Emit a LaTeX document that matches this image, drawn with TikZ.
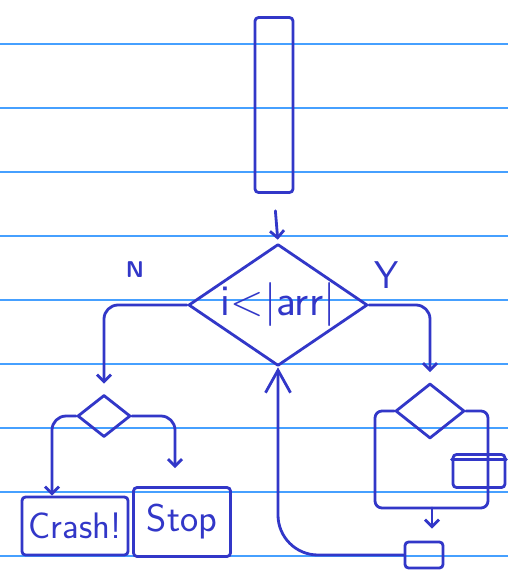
\documentclass[tikz,border=0pt]{standalone}
\usetikzlibrary{arrows.meta,shapes.geometric,calc}
\definecolor{ink}{RGB}{50,55,200}
\definecolor{rule}{RGB}{70,160,255}
\tikzstyle{pen}=[draw=ink,line width=1.6pt,line cap=round,line join=round]
\tikzstyle{box}=[pen,rectangle,rounded corners=2pt,inner sep=0pt]
\tikzstyle{dec}=[pen,diamond,inner sep=0pt]
\tikzstyle{wire}=[pen,rounded corners=8pt,-{Straight Barb[length=4pt,width=8pt]}]
\tikzstyle{lbl}=[text=ink,font=\sffamily]
\newcommand{\handsize}[1]{\fontsize{#1}{#1}\selectfont}

\begin{document}
\begin{tikzpicture}[x=0.02cm,y=-0.02cm]
\fill[white] (0,0) rectangle (508,572);
\useasboundingbox (0,0) rectangle (508,572);
\foreach \k in {0,...,8}
  \draw[rule,line width=1pt] (0,44+64*\k) -- (508,44+64*\k);

\node[box,minimum width=0.76cm,minimum height=3.5cm] (list) at (274,105) {};
\node[dec,lbl,shape aspect=1.47,minimum width=3.52cm,minimum height=2.4cm,
      font=\sffamily\handsize{25}] (cond) at (278,305) {i<|arr|};
\node[dec,minimum width=1.06cm,minimum height=0.84cm] (sdl) at (104,416) {};
\node[dec,minimum width=1.38cm,minimum height=1.1cm] (sdr) at (430,411) {};
\node[box,lbl,minimum width=2.12cm,minimum height=1.16cm,
      font=\sffamily\handsize{21}] (crash) at (75,526) {Crash!};
\node[box,lbl,minimum width=1.94cm,minimum height=1.38cm,
      font=\sffamily\handsize{22}] (stop) at (182,522) {Stop};
\node[box,minimum width=1.04cm,minimum height=0.66cm] (buf) at (479,471) {};
\draw[pen] ($(buf.north west)+(0,6)$) -- ($(buf.north east)+(0,6)$);
\node[box,minimum width=0.76cm,minimum height=0.52cm] (done) at (424,555) {};

\node[lbl,font=\sffamily\bfseries\handsize{13}] (no) at (135,270) {N};
\node[lbl,font=\sffamily\handsize{22}] (yes) at (387,275) {Y};

\draw[wire,shorten <=0.34cm,shorten >=0.06cm] (list.south) -- (cond.north);
\draw[wire,shorten >=0.2cm] (cond.west) -| (sdl.north);
\draw[wire] (sdl.west) -| ($(crash.north)+(-23,0)$);
\draw[wire,shorten >=0.36cm] (sdl.east) -| ($(stop.north)+(-7,0)$);
\draw[wire,shorten >=0.2cm] (cond.east) -| (sdr.north);

\coordinate (lp) at (375,508);
\coordinate (rp) at (488,508);
\coordinate (join) at (432,508);
\draw[pen,rounded corners=4pt] (sdr.west) -| (lp) -- (rp) |- (sdr.east);
\draw[wire,shorten >=0.24cm] (join) -- (join |- done.north);
\draw[wire,rounded corners=0.8cm,-{Straight Barb[length=0.45cm,width=0.5cm]}]
  (done.west) -| (cond.south);
\end{tikzpicture}
\end{document}
